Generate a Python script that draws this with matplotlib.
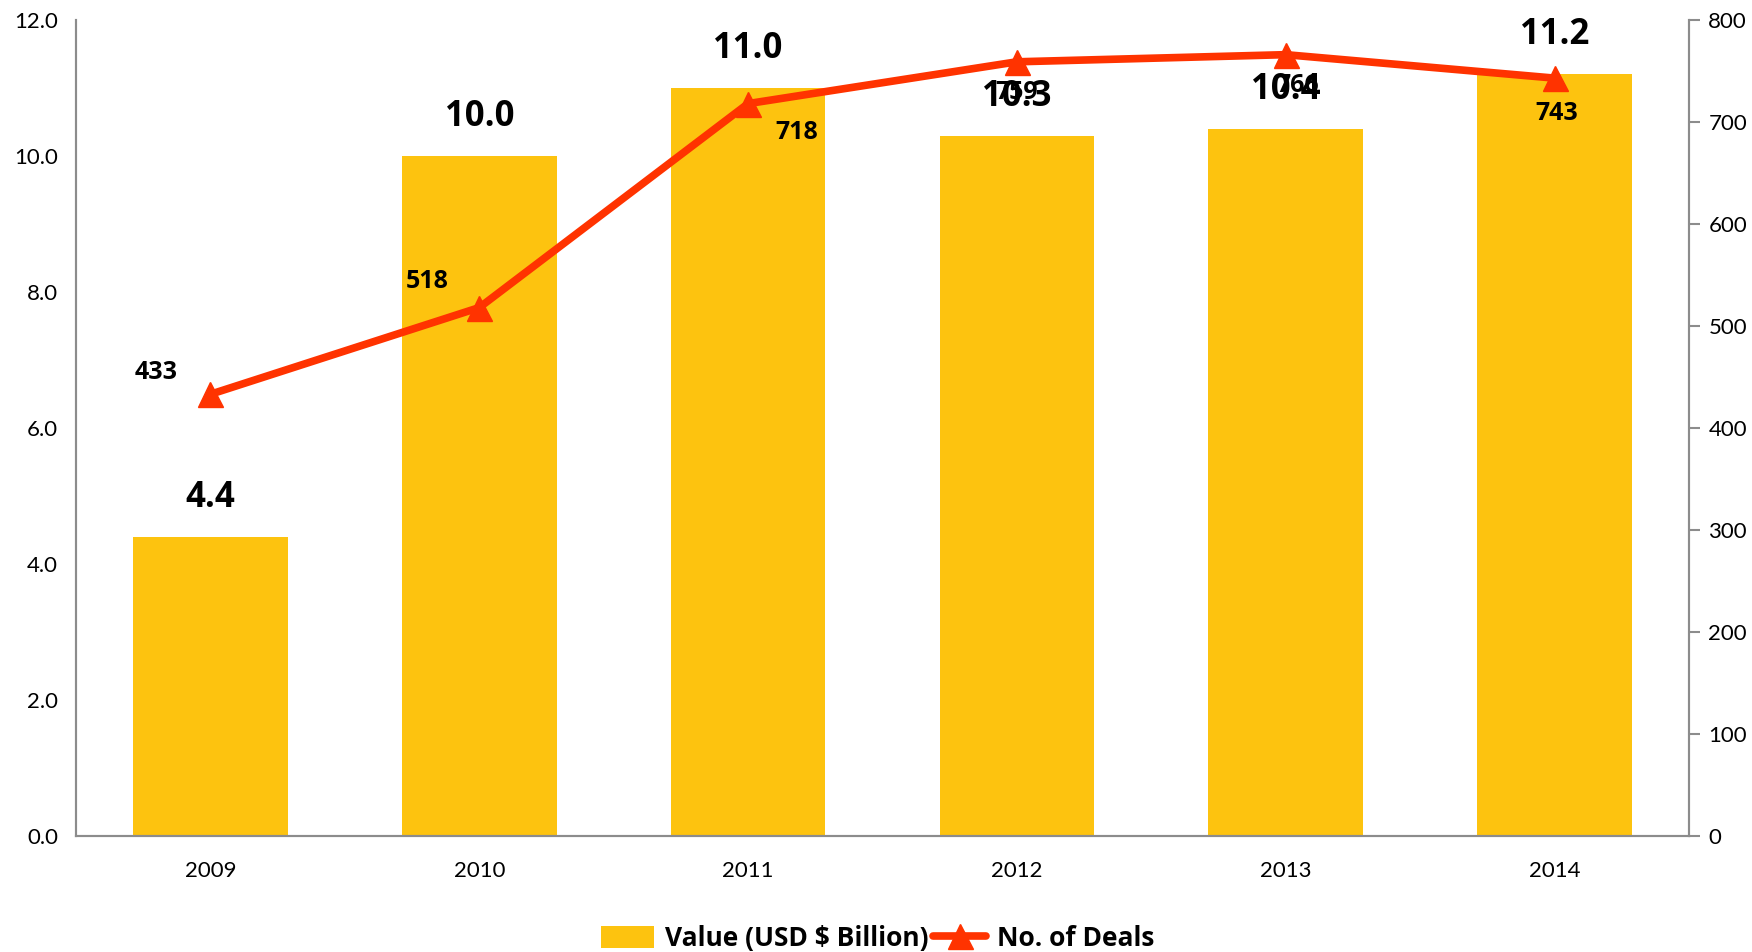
import matplotlib
matplotlib.use("Agg")
import matplotlib.pyplot as plt
from matplotlib.lines import Line2D
from matplotlib.patches import Patch

plt.rcParams['font.family'] = ['Lato', 'DejaVu Sans']

years = ['2009', '2010', '2011', '2012', '2013', '2014']
value_bn = [4.4, 10.0, 11.0, 10.3, 10.4, 11.2]
deals = [433, 518, 718, 759, 766, 743]

bar_color = '#FDC30F'
line_color = '#FF3300'
axis_gray = '#8C8C8C'
bold_font = ['Open Sans', 'DejaVu Sans']

fig = plt.figure(figsize=(17.52, 9.52), dpi=100)
ax = fig.add_axes([0.0434, 0.122, 0.9206, 0.857])
ax2 = ax.twinx()

x = list(range(len(years)))
ax.bar(x, value_bn, width=0.575, color=bar_color, zorder=2)
ax.set_xlim(-0.5, len(years) - 0.5)
ax.set_ylim(0, 12)
ax.set_yticks([0, 2, 4, 6, 8, 10, 12])
ax.set_yticklabels([f'{v:.1f}' for v in [0, 2, 4, 6, 8, 10, 12]])
ax.set_xticks(x)
ax.set_xticklabels(years)
ax.tick_params(axis='x', length=0, labelsize=16, pad=18)
ax.tick_params(axis='y', length=0, labelsize=16, pad=13)

for xi, v in zip(x, value_bn):
    ax.annotate(f'{v:.1f}', (xi, v), xytext=(0, 39), textcoords='offset pixels',
                ha='center', va='center', fontsize=25, fontweight='bold',
                family=bold_font, zorder=5)

ax2.plot(x, deals, color=line_color, lw=5.5, marker='^', markersize=18,
         solid_capstyle='round', zorder=4)
ax2.set_ylim(0, 800)
ax2.set_yticks(range(0, 801, 100))
ax2.tick_params(axis='y', length=8, color=axis_gray, width=1.5, labelsize=16, pad=6)

# label offsets around each marker, in pixels
offsets = [(-54, 22), (-52, 26), (49, -29), (0, -31), (12, -31), (2, -35)]
for xi, d, off in zip(x, deals, offsets):
    ax2.annotate(str(d), (xi, d), xytext=off, textcoords='offset pixels',
                 ha='center', va='center', fontsize=18, fontweight='bold',
                 family=bold_font, zorder=6)

for a in (ax, ax2):
    a.spines['top'].set_visible(False)
    for s in ('left', 'right', 'bottom'):
        a.spines[s].set_color(axis_gray)
        a.spines[s].set_linewidth(1.5)

handles = [Patch(facecolor=bar_color, edgecolor='none'),
           Line2D([0], [0], color=line_color, lw=5.5, marker='^', markersize=18,
                  solid_capstyle='round')]
fig.legend(handles, ['Value (USD $ Billion)', 'No. of Deals'], loc='center',
           bbox_to_anchor=(0.501, 0.014), ncol=2, frameon=False,
           prop={'weight': 'bold', 'size': 19, 'family': bold_font},
           handlelength=2.0, handleheight=0.9,
           columnspacing=0.2, handletextpad=0.4)

fig.savefig('out.png', dpi=100)
